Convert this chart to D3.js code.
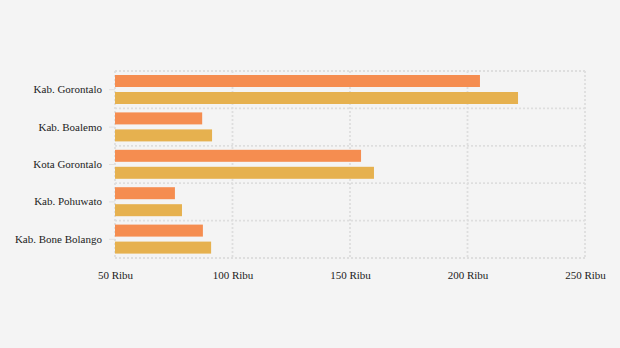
<!DOCTYPE html>
<html><head><meta charset="utf-8">
<script src="https://cdn.jsdelivr.net/npm/d3@7"></script>
<style>
html,body{margin:0;padding:0;background:#f4f4f4;}
svg{display:block;font-family:"Liberation Serif","Times New Roman",serif;}
</style></head>
<body>
<svg id="c" width="620" height="348"></svg>
<script>
const categories = ["Kab. Gorontalo","Kab. Boalemo","Kota Gorontalo","Kab. Pohuwato","Kab. Bone Bolango"];
const series1 = [205.3, 87.1, 154.7, 75.5, 87.4];
const series2 = [221.5, 91.3, 160.2, 78.5, 90.9];
const xTicks = [50,100,150,200,250];
const tickLabels = ["50 Ribu","100 Ribu","150 Ribu","200 Ribu","250 Ribu"];
const colors = ["#f58d50","#e6b14f"];

(function(){
const svg = d3.select("#c");
const pLeft=115, pRight=585, pTop=71, pBottom=258;
const x = d3.scaleLinear().domain([50,250]).range([pLeft,pRight]);
const y = d3.scaleBand().domain(categories).range([pTop,pBottom]);
const grid = "#dedede";

svg.append("g").selectAll("line").data(xTicks).join("line")
  .attr("x1",d=>x(d)).attr("x2",d=>x(d)).attr("y1",pTop).attr("y2",pBottom)
  .attr("stroke",grid).attr("stroke-width",1.8).attr("stroke-dasharray","2,2");
const bounds = categories.map(c=>y(c)).concat([pBottom]);
svg.append("g").selectAll("line").data(bounds).join("line")
  .attr("x1",pLeft).attr("x2",pRight).attr("y1",d=>d).attr("y2",d=>d)
  .attr("stroke",grid).attr("stroke-width",1.8).attr("stroke-dasharray","2,2");

const bh = 12;
const g = svg.append("g");
g.selectAll("rect.s1").data(categories).join("rect").attr("class","s1")
  .attr("x",pLeft).attr("y",d=>y(d)+4).attr("height",bh)
  .attr("width",(d,i)=>x(series1[i])-pLeft).attr("fill",colors[0]);
g.selectAll("rect.s2").data(categories).join("rect").attr("class","s2")
  .attr("x",pLeft).attr("y",d=>y(d)+21).attr("height",bh)
  .attr("width",(d,i)=>x(series2[i])-pLeft).attr("fill",colors[1]);

const yAxis = d3.axisLeft(y).tickSize(6).tickPadding(7);
const ya = svg.append("g").attr("transform",`translate(${pLeft},0)`).call(yAxis);
ya.select(".domain").remove();
ya.selectAll("line").attr("stroke","#e0e0e0");
ya.selectAll("text").attr("font-size","11px").attr("fill","#222").attr("font-family","Liberation Serif, serif");

const xAxis = d3.axisBottom(x).tickValues(xTicks).tickFormat((d,i)=>tickLabels[i]).tickSize(0).tickPadding(13);
const xa = svg.append("g").attr("transform",`translate(0,${pBottom})`).call(xAxis);
xa.select(".domain").remove();
xa.selectAll("text").attr("font-size","11px").attr("fill","#222").attr("font-family","Liberation Serif, serif");
})();
</script>
</body></html>
